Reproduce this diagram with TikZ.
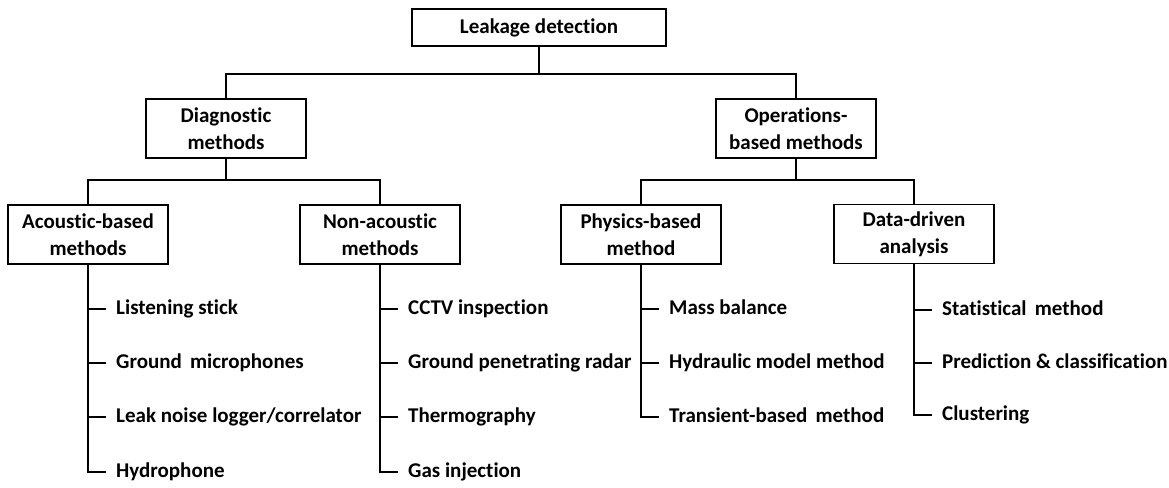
\documentclass[tikz,border=0pt]{standalone}
\usepackage{fontspec}
\setmainfont{Carlito}[Ligatures={NoCommon}]
\begin{document}
\begin{tikzpicture}[x=1pt,y=-1pt,
  txt/.style={font=\bfseries\fontsize{21}{27}\selectfont},
  box/.style={txt, draw, line width=1.2pt, minimum width=160pt, minimum height=59pt, align=center, inner sep=0pt},
  conn/.style={line width=2pt},
  leaf/.style={txt, anchor=west, inner xsep=10pt, inner ysep=0pt, text height=15pt, text depth=4pt}]
\useasboundingbox (0,0) rectangle (1169,487);
\node[box, minimum width=254pt, minimum height=37pt] (top) at (539,27.5) {Leakage detection};
\node[box] (diag) at (226,128.5) {Diagnostic\\methods};
\node[box] (ops) at (796,128.5) {Operations-\\based methods};
\node[box] (ac) at (88,234.5) {Acoustic-based\\methods};
\node[box] (nonac) at (380,234.5) {Non-acoustic\\methods};
\node[box] (phys) at (641,234.5) {Physics-based\\method};
\node[box] (data) at (914,234) {Data-driven\\analysis};
\coordinate (j1) at (539,74);
\coordinate (j2) at (226,180);
\coordinate (j3) at (796,180);
\draw[conn] (top.south) -- (j1);
\draw[conn] (diag.north) |- (j1) -| (ops.north);
\draw[conn] (diag.south) -- (j2);
\draw[conn] (ac.north) |- (j2) -| (nonac.north);
\draw[conn] (ops.south) -- (j3);
\draw[conn] (phys.north) |- (j3) -| (data.north);
% leaves
\node[leaf] (a1) at (106,309) {Listening stick};
\node[leaf] (a2) at (106,363) {Ground\, microphones};
\node[leaf] (a3) at (106,417) {Leak noise logger/correlator};
\node[leaf] (a4) at (106,472) {Hydrophone};
\node[leaf] (n1) at (398,309) {CCTV inspection};
\node[leaf] (n2) at (398,363) {Ground penetrating radar};
\node[leaf] (n3) at (398,417) {Thermography};
\node[leaf] (n4) at (398,472) {Gas injection};
\node[leaf] (p1) at (659,309) {Mass balance};
\node[leaf] (p2) at (659,363) {Hydraulic model method};
\node[leaf] (p3) at (659,417) {Transient-based\, method};
\node[leaf] (d1) at (932,310) {Statistical\, method};
\node[leaf] (d2) at (932,363) {Prediction \& classification};
\node[leaf] (d3) at (932,415) {Clustering};
\draw[conn] (ac.south) |- (a4.west);
\foreach \n in {a1,a2,a3} \draw[conn] (ac.south |- \n.west) -- (\n.west);
\draw[conn] (nonac.south) |- (n4.west);
\foreach \n in {n1,n2,n3} \draw[conn] (nonac.south |- \n.west) -- (\n.west);
\draw[conn] (phys.south) |- (p3.west);
\foreach \n in {p1,p2} \draw[conn] (phys.south |- \n.west) -- (\n.west);
\draw[conn] (data.south) |- (d3.west);
\foreach \n in {d1,d2} \draw[conn] (data.south |- \n.west) -- (\n.west);
\end{tikzpicture}
\end{document}
